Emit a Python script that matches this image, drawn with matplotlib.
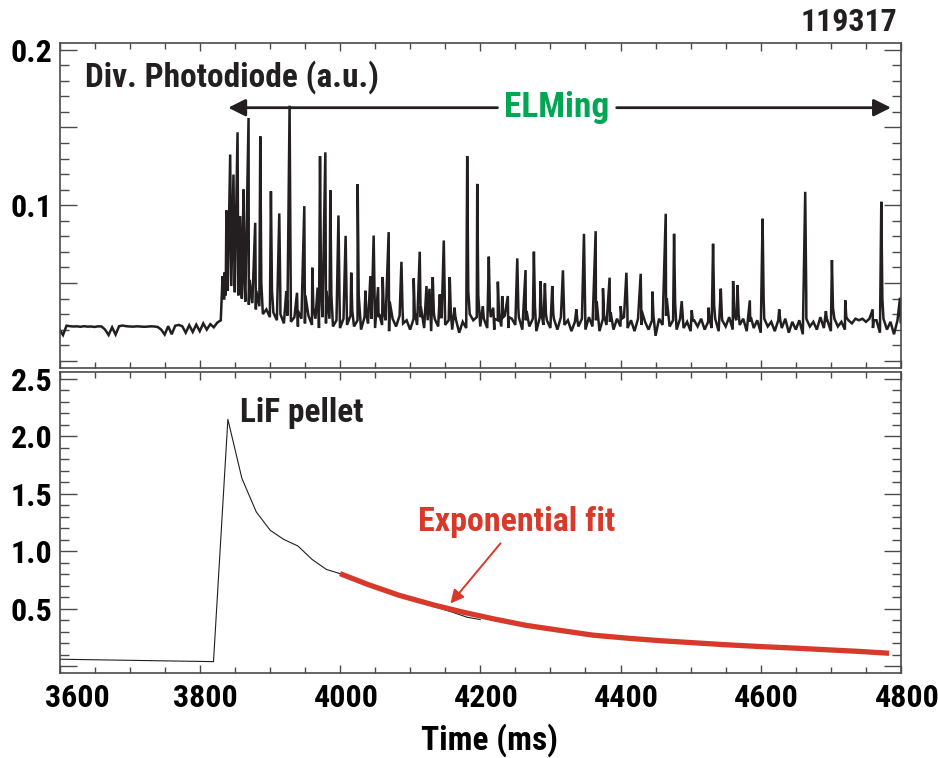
import numpy as np
import matplotlib
matplotlib.use('Agg')
import matplotlib.pyplot as plt
from matplotlib import font_manager
from matplotlib.ticker import MultipleLocator
from matplotlib.transforms import ScaledTranslation

names = {f.name for f in font_manager.fontManager.ttflist}
fam = [n for n in ['Roboto Condensed', 'Archivo Narrow', 'Liberation Sans', 'DejaVu Sans'] if n in names]
plt.rcParams['font.family'] = fam
plt.rcParams['font.weight'] = 'bold'

# ---------------- data ----------------
shot_label = "119317"
x_ticks = [3600, 3800, 4000, 4200, 4400, 4600, 4800]
top_yticks = [0.0, 0.05, 0.1, 0.15, 0.2]
top_ylabels = ['', '', '0.1', '', '0.2']
bot_yticks = [0.0, 0.5, 1.0, 1.5, 2.0, 2.5]
bot_ylabels = ['', '0.5', '1.0', '1.5', '2.0', '2.5']

# photodiode baseline, sampled every 5 ms from 3600 to 4800
base_t = np.arange(3600, 4801, 5)
base_v = np.array([
    0.0200, 0.0165, 0.0225, 0.0222, 0.0220, 0.0221, 0.0218, 0.0222, 0.0219, 0.0220,
    0.0217, 0.0221, 0.0220, 0.0200, 0.0165, 0.0215, 0.0168, 0.0222, 0.0226, 0.0222,
    0.0220, 0.0219, 0.0221, 0.0220, 0.0218, 0.0219, 0.0221, 0.0220, 0.0217, 0.0200,
    0.0168, 0.0222, 0.0170, 0.0225, 0.0230, 0.0222, 0.0180, 0.0228, 0.0185, 0.0232,
    0.0190, 0.0240, 0.0200, 0.0235,
    0.0215, 0.0245, 0.0260, 0.0400, 0.0450, 0.0480, 0.0440, 0.0420, 0.0400, 0.0380,
    0.0360, 0.0370, 0.0330, 0.0350, 0.0300, 0.0330, 0.0280, 0.0310, 0.0260, 0.0300,
    0.0240, 0.0290, 0.0250, 0.0280, 0.0220, 0.0270, 0.0240, 0.0290, 0.0230, 0.0270,
    0.0210, 0.0280, 0.0240, 0.0270, 0.0220, 0.0260,
    0.021, 0.027, 0.023, 0.029, 0.022, 0.026, 0.020, 0.028, 0.024, 0.027,
    0.021, 0.028, 0.023, 0.026, 0.019, 0.027, 0.022, 0.029, 0.024, 0.026,
    0.020, 0.027, 0.023, 0.028, 0.021, 0.026, 0.019, 0.027, 0.022, 0.028,
    0.023, 0.026, 0.020, 0.027, 0.018, 0.025, 0.021, 0.030, 0.026, 0.028,
    0.022, 0.027, 0.021, 0.028, 0.020, 0.026, 0.022, 0.029, 0.021, 0.027,
    0.023, 0.028, 0.020, 0.026, 0.022, 0.027, 0.019, 0.028, 0.023, 0.026,
    0.021, 0.027, 0.020, 0.028, 0.023, 0.026, 0.019, 0.025, 0.022, 0.027,
    0.020, 0.028, 0.022, 0.026, 0.019, 0.027, 0.023, 0.025, 0.020, 0.027,
    0.022, 0.028, 0.021, 0.026, 0.019, 0.027, 0.023, 0.025, 0.020, 0.026,
    0.016, 0.027, 0.023, 0.029, 0.022, 0.026, 0.020, 0.027, 0.021, 0.025,
    0.019, 0.026, 0.022, 0.027, 0.020, 0.025, 0.021, 0.027, 0.019, 0.026,
    0.022, 0.028, 0.020, 0.026, 0.023, 0.027, 0.019, 0.025, 0.021, 0.026,
    0.018, 0.027, 0.022, 0.025, 0.019, 0.026, 0.021, 0.027, 0.018, 0.025,
    0.020, 0.026, 0.017, 0.027, 0.022, 0.025, 0.020, 0.028, 0.021, 0.026,
    0.019, 0.027, 0.022, 0.025, 0.020, 0.026, 0.024, 0.027, 0.026, 0.027,
    0.025, 0.027, 0.021, 0.026, 0.018, 0.027, 0.020, 0.025, 0.017, 0.026,
    0.024,
])

# ELM spikes: time (ms), peak value, value just after the spike
elm_t = np.array([
    3832.5, 3835.5, 3838.0, 3843.4, 3848.1, 3853.9, 3857.7, 3862.4, 3869.6, 3879.1,
    3886.3, 3901.5, 3913.4, 3923.4, 3928.1, 3938.7, 3949.1, 3960.5, 3968.1, 3971.5,
    3979.1, 3986.2, 3997.8, 4008.0, 4016.0, 4025.2, 4036.2, 4043.3, 4048.0, 4054.3,
    4060.9, 4069.4, 4087.6, 4105.1, 4113.7, 4123.3, 4127.6, 4132.3, 4142.3, 4148.0,
    4156.5, 4163.3, 4181.4, 4195.7, 4203.6, 4212.2, 4218.5, 4225.1, 4231.3, 4239.3,
    4252.8, 4264.6, 4276.5, 4286.0, 4292.2, 4302.7, 4317.9, 4337.0, 4347.9, 4364.6,
    4375.0, 4384.5, 4400.3, 4408.4, 4428.8, 4445.5, 4464.5, 4476.4, 4487.3, 4501.6,
    4525.5, 4532.0, 4543.0, 4560.6, 4566.9, 4584.4, 4602.6, 4626.3, 4663.4, 4692.9,
    4701.5, 4720.5, 4759.6, 4771.9, 4798.6,
])
elm_peak = np.array([
    0.0544, 0.0568, 0.0966, 0.1326, 0.1197, 0.1469, 0.0930, 0.1101, 0.1561, 0.0887,
    0.1443, 0.1090, 0.0947, 0.0448, 0.1640, 0.0437, 0.0994, 0.0598, 0.0470, 0.1315,
    0.1340, 0.1096, 0.0934, 0.0803, 0.0566, 0.1135, 0.0450, 0.0544, 0.0805, 0.0473,
    0.0538, 0.0827, 0.0636, 0.0529, 0.0701, 0.0480, 0.0463, 0.0538, 0.0426, 0.0773,
    0.0538, 0.0341, 0.1315, 0.1137, 0.0351, 0.0669, 0.0341, 0.0508, 0.0416, 0.0416,
    0.0658, 0.0583, 0.0701, 0.0512, 0.0497, 0.0480, 0.0581, 0.0330, 0.0816, 0.0833,
    0.0465, 0.0534, 0.0351, 0.0566, 0.0559, 0.0444, 0.0945, 0.0816, 0.0383, 0.0324,
    0.0341, 0.0752, 0.0463, 0.0512, 0.0486, 0.0388, 0.0913, 0.0330, 0.1086, 0.0319,
    0.0647, 0.0388, 0.0330, 0.1022, 0.0405,
])
elm_tail = np.array([
    0.040, 0.042, 0.048, 0.052, 0.050, 0.052, 0.048, 0.050, 0.052, 0.045,
    0.050, 0.045, 0.042, 0.034, 0.048, 0.032, 0.042, 0.034, 0.030, 0.045,
    0.045, 0.042, 0.040, 0.038, 0.032, 0.042, 0.030, 0.032, 0.038, 0.030,
    0.032, 0.038, 0.034, 0.031, 0.035, 0.030, 0.029, 0.031, 0.028, 0.036,
    0.031, 0.027, 0.045, 0.042, 0.027, 0.034, 0.027, 0.030, 0.028, 0.028,
    0.034, 0.032, 0.035, 0.030, 0.030, 0.030, 0.032, 0.026, 0.038, 0.038,
    0.029, 0.031, 0.027, 0.032, 0.032, 0.029, 0.040, 0.037, 0.028, 0.026,
    0.027, 0.036, 0.029, 0.030, 0.030, 0.028, 0.040, 0.026, 0.042, 0.026,
    0.034, 0.028, 0.026, 0.040, 0.030,
])

# LiF pellet signal (black) and exponential fit (red)
lif_t = [3600, 3819.6, 3840.1, 3860.1, 3880.6, 3900.5, 3919.5, 3940.1, 3960.1,
         3980.5, 4000.5, 4040, 4080, 4120, 4160, 4181, 4200]
lif_v = [0.060, 0.039, 2.148, 1.634, 1.342, 1.182, 1.104, 1.045, 0.929,
         0.842, 0.804, 0.705, 0.620, 0.545, 0.470, 0.426, 0.405]
fit_t = [4000, 4040, 4085, 4135, 4175, 4220, 4265, 4315, 4360, 4410, 4455,
         4505, 4550, 4600, 4650, 4695, 4740, 4783]
fit_v = [0.805, 0.710, 0.615, 0.530, 0.470, 0.410, 0.355, 0.310, 0.270, 0.243,
         0.222, 0.203, 0.186, 0.170, 0.156, 0.142, 0.128, 0.112]

# ---------------- figure ----------------
W, H = 938, 758
fig = plt.figure(figsize=(W / 100, H / 100), dpi=100)
L, R = 59.5, 901.0
ax1 = fig.add_axes([L / W, 1 - 367.7 / H, (R - L) / W, (367.7 - 42.7) / H])
ax2 = fig.add_axes([L / W, 1 - 673.0 / H, (R - L) / W, (673.0 - 372.0) / H])

black = '#231f20'
red = '#d7392b'
green = '#00a651'
framec = '#4a4a4a'

t_top = np.concatenate([base_t, elm_t, elm_t + 1.5])
v_top = np.concatenate([base_v, elm_peak, elm_tail])
o = np.argsort(t_top, kind='stable')
ax1.plot(t_top[o], v_top[o], color=black, lw=1.8, solid_joinstyle='miter')

ax2.plot(lif_t, lif_v, color=black, lw=0.8)
ax2.plot(fit_t, fit_v, color=red, lw=3.8, solid_capstyle='butt')

FS = 23
for ax in (ax1, ax2):
    ax.set_xlim(3600, 4800)
    ax.set_xticks(x_ticks)
    ax.xaxis.set_minor_locator(MultipleLocator(50))
    ax.tick_params(which='both', direction='in', top=True, right=True,
                   color=framec, width=1.0, labelsize=FS)
    ax.xaxis.set_tick_params(which='major', length=6)
    ax.xaxis.set_tick_params(which='minor', length=4)
    ax.yaxis.set_tick_params(which='major', length=12, pad=5)
    ax.yaxis.set_tick_params(which='minor', length=6.5)
    for s in ax.spines.values():
        s.set_color(framec)
        s.set_linewidth(1.2)

ax1.set_ylim(-0.0045, 0.2045)
ax1.set_yticks(top_yticks)
ax1.set_yticklabels(top_ylabels)
ax1.yaxis.set_minor_locator(MultipleLocator(0.01))
ax1.tick_params(labelbottom=False)

ax2.set_ylim(-0.06, 2.56)
ax2.set_yticks(bot_yticks)
ax2.set_yticklabels(bot_ylabels)
ax2.yaxis.set_minor_locator(MultipleLocator(0.1))
ax2.xaxis.set_tick_params(which='major', pad=7)
ax2.set_xticklabels([str(v) for v in x_ticks])
for i, lab in enumerate(ax2.get_xticklabels()):
    dx = 18 if i == 0 else 6
    lab.set_transform(lab.get_transform() + ScaledTranslation(dx / 100, 0, fig.dpi_scale_trans))

ax2.set_xlabel('Time (ms)', fontsize=24, fontweight='bold', va='center')
ax2.xaxis.set_label_coords((489 - L) / (R - L), (673 - 740) / (673 - 372))

# annotations
ax1.text(3636.4, 0.1827, 'Div. Photodiode (a.u.)', fontsize=24, fontweight='bold',
         color=black, ha='left', va='center')
ax1.text(4308.8, 0.1627, 'ELMing', fontsize=25.5, fontweight='bold', color=green,
         ha='center', va='center')
ap = dict(arrowstyle='-|>', color=black, lw=2.0, mutation_scale=26, shrinkA=0, shrinkB=0)
ax1.annotate('', xy=(3840.6, 0.1627), xytext=(4224.6, 0.1627), arrowprops=ap)
ax1.annotate('', xy=(4785.7, 0.1627), xytext=(4394.6, 0.1627), arrowprops=ap)

ax2.text(3857.7, 2.203, 'LiF pellet', fontsize=24, fontweight='bold', color=black,
         ha='left', va='center')
ax2.text(4111.8, 1.252, 'Exponential fit', fontsize=24.5, fontweight='bold', color=red,
         ha='left', va='center')
ax2.annotate('', xy=(4157.5, 0.545), xytext=(4228.9, 1.069),
             arrowprops=dict(arrowstyle='-|>', color=red, lw=1.4, mutation_scale=20,
                             shrinkA=0, shrinkB=0))

fig.text(897 / W, 1 - 22 / H, shot_label, fontsize=23, fontweight='bold',
         color=black, ha='right', va='center')

fig.savefig('out.png', dpi=100)
